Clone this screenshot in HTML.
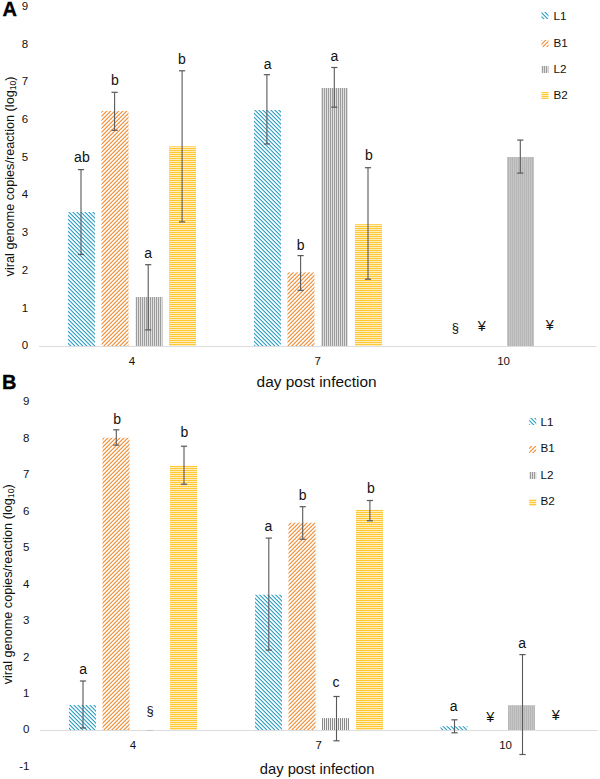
<!DOCTYPE html><html><head><meta charset="utf-8"><style>html,body{margin:0;padding:0;background:#fff;overflow:hidden}svg{display:block}text{font-family:"Liberation Sans",sans-serif;fill:#111111}</style></head><body>
<svg width="600" height="779" viewBox="0 0 600 779">
<rect width="600" height="779" fill="#fff"/>
<defs>
<pattern id="pL1" patternUnits="userSpaceOnUse" x="0" y="0" width="4" height="4"><g fill="#239BC4"><rect x="0" y="0" width="1" height="1" fill-opacity="0.45"/><rect x="1" y="0" width="1" height="1" fill-opacity="0.9"/><rect x="2" y="0" width="1" height="1" fill-opacity="0.15"/><rect x="1" y="1" width="1" height="1" fill-opacity="0.45"/><rect x="2" y="1" width="1" height="1" fill-opacity="0.9"/><rect x="3" y="1" width="1" height="1" fill-opacity="0.15"/><rect x="0" y="2" width="1" height="1" fill-opacity="0.15"/><rect x="2" y="2" width="1" height="1" fill-opacity="0.45"/><rect x="3" y="2" width="1" height="1" fill-opacity="0.9"/><rect x="0" y="3" width="1" height="1" fill-opacity="0.9"/><rect x="1" y="3" width="1" height="1" fill-opacity="0.15"/><rect x="3" y="3" width="1" height="1" fill-opacity="0.45"/></g></pattern>
<pattern id="pB1" patternUnits="userSpaceOnUse" x="0" y="0" width="4" height="4"><g fill="#F5852A"><rect x="0" y="0" width="1" height="1" fill-opacity="0.45"/><rect x="1" y="0" width="1" height="1" fill-opacity="0.9"/><rect x="2" y="0" width="1" height="1" fill-opacity="0.15"/><rect x="0" y="1" width="1" height="1" fill-opacity="0.9"/><rect x="1" y="1" width="1" height="1" fill-opacity="0.15"/><rect x="3" y="1" width="1" height="1" fill-opacity="0.45"/><rect x="0" y="2" width="1" height="1" fill-opacity="0.15"/><rect x="2" y="2" width="1" height="1" fill-opacity="0.45"/><rect x="3" y="2" width="1" height="1" fill-opacity="0.9"/><rect x="1" y="3" width="1" height="1" fill-opacity="0.45"/><rect x="2" y="3" width="1" height="1" fill-opacity="0.9"/><rect x="3" y="3" width="1" height="1" fill-opacity="0.15"/></g></pattern>
<pattern id="pL2" patternUnits="userSpaceOnUse" x="0" y="0" width="2" height="2"><rect width="2" height="2" fill="#E0E0E0"/><rect x="0" y="0" width="1" height="2" fill="#9C9C9C"/></pattern>
<pattern id="pL2u" patternUnits="userSpaceOnUse" x="0" y="0" width="2" height="2"><rect width="2" height="2" fill="#C6C6C6"/><rect x="0" y="0" width="1" height="2" fill="#B6B6B6"/></pattern>
<pattern id="pL2h" patternUnits="userSpaceOnUse" x="0" y="0" width="2" height="2"><rect width="2" height="2" fill="#F2F2F2"/><rect x="0" y="0" width="1" height="2" fill="#8A8A8A"/></pattern>
<pattern id="pB2" patternUnits="userSpaceOnUse" x="0" y="0" width="2" height="2"><rect width="2" height="2" fill="#FFEDBD"/><rect x="0" y="0" width="2" height="1" fill="#FFC935"/></pattern>
<pattern id="pB2u" patternUnits="userSpaceOnUse" x="0" y="0" width="2" height="2"><rect width="2" height="2" fill="#FFD876"/><rect x="0" y="0" width="2" height="1" fill="#FFD46A"/></pattern>
</defs>
<text x="28.2" y="349.40000000000003" font-size="11.5" text-anchor="end" >0</text>
<text x="28.2" y="311.67" font-size="11.5" text-anchor="end" >1</text>
<text x="28.2" y="273.94000000000005" font-size="11.5" text-anchor="end" >2</text>
<text x="28.2" y="236.21" font-size="11.5" text-anchor="end" >3</text>
<text x="28.2" y="198.48000000000002" font-size="11.5" text-anchor="end" >4</text>
<text x="28.2" y="160.75000000000003" font-size="11.5" text-anchor="end" >5</text>
<text x="28.2" y="123.02000000000001" font-size="11.5" text-anchor="end" >6</text>
<text x="28.2" y="85.29000000000005" font-size="11.5" text-anchor="end" >7</text>
<text x="28.2" y="47.56000000000004" font-size="11.5" text-anchor="end" >8</text>
<text x="28.2" y="9.830000000000018" font-size="11.5" text-anchor="end" >9</text>
<rect x="39" y="346" width="557.5" height="1" fill="#DCDCDC"/>
<rect x="68.0" y="212" width="27" height="134" fill="url(#pL1)"/>
<rect x="101.5" y="111" width="27" height="235" fill="url(#pB1)"/>
<rect x="135.5" y="297" width="27" height="49" fill="url(#pL2)"/>
<rect x="169.0" y="146.3" width="27" height="199.7" fill="url(#pB2)"/>
<rect x="254.0" y="110" width="27" height="236" fill="url(#pL1)"/>
<rect x="287.5" y="272.4" width="27" height="73.60000000000002" fill="url(#pB1)"/>
<rect x="321.0" y="88" width="27" height="258" fill="url(#pL2)"/>
<rect x="355.0" y="224.2" width="27" height="121.80000000000001" fill="url(#pB2)"/>
<rect x="507.0" y="157" width="27" height="189" fill="url(#pL2u)"/>
<rect x="80.45" y="169.60" width="1.1" height="84.90" fill="#595959"/>
<rect x="77.90" y="169.00" width="6.2" height="1.2" fill="#595959"/>
<rect x="77.90" y="253.90" width="6.2" height="1.2" fill="#595959"/>
<rect x="114.05" y="92.30" width="1.1" height="38.00" fill="#595959"/>
<rect x="111.50" y="91.70" width="6.2" height="1.2" fill="#595959"/>
<rect x="111.50" y="129.70" width="6.2" height="1.2" fill="#595959"/>
<rect x="147.65" y="264.70" width="1.1" height="65.20" fill="#595959"/>
<rect x="145.10" y="264.10" width="6.2" height="1.2" fill="#595959"/>
<rect x="145.10" y="329.30" width="6.2" height="1.2" fill="#595959"/>
<rect x="181.55" y="70.80" width="1.1" height="151.10" fill="#595959"/>
<rect x="179.00" y="70.20" width="6.2" height="1.2" fill="#595959"/>
<rect x="179.00" y="221.30" width="6.2" height="1.2" fill="#595959"/>
<rect x="266.35" y="74.70" width="1.1" height="69.30" fill="#595959"/>
<rect x="263.80" y="74.10" width="6.2" height="1.2" fill="#595959"/>
<rect x="263.80" y="143.40" width="6.2" height="1.2" fill="#595959"/>
<rect x="300.05" y="255.60" width="1.1" height="34.70" fill="#595959"/>
<rect x="297.50" y="255.00" width="6.2" height="1.2" fill="#595959"/>
<rect x="297.50" y="289.70" width="6.2" height="1.2" fill="#595959"/>
<rect x="333.75" y="67.50" width="1.1" height="39.70" fill="#595959"/>
<rect x="331.20" y="66.90" width="6.2" height="1.2" fill="#595959"/>
<rect x="331.20" y="106.60" width="6.2" height="1.2" fill="#595959"/>
<rect x="367.45" y="167.70" width="1.1" height="111.50" fill="#595959"/>
<rect x="364.90" y="167.10" width="6.2" height="1.2" fill="#595959"/>
<rect x="364.90" y="278.60" width="6.2" height="1.2" fill="#595959"/>
<rect x="519.75" y="140.10" width="1.1" height="33.00" fill="#595959"/>
<rect x="517.20" y="139.50" width="6.2" height="1.2" fill="#595959"/>
<rect x="517.20" y="172.50" width="6.2" height="1.2" fill="#595959"/>
<text x="81.9" y="161.8" font-size="14" text-anchor="middle" >ab</text>
<text x="114.8" y="84.5" font-size="14" text-anchor="middle" >b</text>
<text x="148.1" y="257.5" font-size="14" text-anchor="middle" >a</text>
<text x="182" y="64.4" font-size="14" text-anchor="middle" >b</text>
<text x="267.75" y="68.5" font-size="14" text-anchor="middle" >a</text>
<text x="300.6" y="250.4" font-size="14" text-anchor="middle" >b</text>
<text x="334.4" y="61.4" font-size="14" text-anchor="middle" >a</text>
<text x="369" y="160.4" font-size="14" text-anchor="middle" >b</text>
<text x="455.25" y="331.8" font-size="13" text-anchor="middle" >§</text>
<text x="481.75" y="330.8" font-size="14.5" text-anchor="middle" >¥</text>
<text x="549.75" y="330.3" font-size="14.5" text-anchor="middle" >¥</text>
<text x="132" y="365" font-size="11.5" text-anchor="middle" >4</text>
<text x="317.8" y="365.2" font-size="11.5" text-anchor="middle" >7</text>
<text x="503.6" y="365.2" font-size="11.5" text-anchor="middle" >10</text>
<text x="316.6" y="386.6" font-size="15.5" text-anchor="middle" textLength="120" lengthAdjust="spacingAndGlyphs">day post infection</text>
<text transform="translate(13.9,176.4) rotate(-90)" x="0" y="0" font-size="13" text-anchor="middle" textLength="200" lengthAdjust="spacingAndGlyphs">viral genome copies/reaction (log<tspan font-size="8.84" dy="2">10</tspan><tspan dy="-2">)</tspan></text>
<rect x="541.5" y="12" width="7" height="7" fill="url(#pL1)"/>
<text x="553.4" y="19.7" font-size="11.7" text-anchor="start" >L1</text>
<rect x="541.5" y="40" width="7" height="7" fill="url(#pB1)"/>
<text x="553.4" y="46.5" font-size="11.7" text-anchor="start" >B1</text>
<rect x="541.5" y="66" width="7" height="7" fill="url(#pL2)"/>
<text x="553.4" y="72.6" font-size="11.7" text-anchor="start" >L2</text>
<rect x="541.5" y="92" width="7" height="7" fill="url(#pB2)"/>
<text x="553.4" y="99.4" font-size="11.7" text-anchor="start" >B2</text>
<text x="2.4" y="16.2" font-size="20" text-anchor="start" font-weight="bold" style="fill:#000;stroke:#000;stroke-width:0.35px">A</text>
<text x="29.4" y="769.85" font-size="11.5" text-anchor="end" >-1</text>
<text x="29.4" y="733.4" font-size="11.5" text-anchor="end" >0</text>
<text x="29.4" y="696.9499999999999" font-size="11.5" text-anchor="end" >1</text>
<text x="29.4" y="660.5" font-size="11.5" text-anchor="end" >2</text>
<text x="29.4" y="624.05" font-size="11.5" text-anchor="end" >3</text>
<text x="29.4" y="587.6" font-size="11.5" text-anchor="end" >4</text>
<text x="29.4" y="551.15" font-size="11.5" text-anchor="end" >5</text>
<text x="29.4" y="514.6999999999999" font-size="11.5" text-anchor="end" >6</text>
<text x="29.4" y="478.24999999999994" font-size="11.5" text-anchor="end" >7</text>
<text x="29.4" y="441.79999999999995" font-size="11.5" text-anchor="end" >8</text>
<text x="29.4" y="405.34999999999997" font-size="11.5" text-anchor="end" >9</text>
<rect x="40" y="730" width="557.7" height="1" fill="#DCDCDC"/>
<rect x="69.0" y="705" width="27" height="25" fill="url(#pL1)"/>
<rect x="102.5" y="437.7" width="27" height="292.3" fill="url(#pB1)"/>
<rect x="170.0" y="465.75" width="27" height="264.25" fill="url(#pB2)"/>
<rect x="255.0" y="594.7" width="27" height="135.29999999999995" fill="url(#pL1)"/>
<rect x="288.5" y="522.7" width="27" height="207.29999999999995" fill="url(#pB1)"/>
<rect x="322.0" y="718.1" width="27" height="11.899999999999977" fill="url(#pL2h)"/>
<rect x="356.0" y="509.9" width="27" height="220.10000000000002" fill="url(#pB2)"/>
<rect x="440.5" y="726.2" width="27" height="3.7999999999999545" fill="url(#pL1)"/>
<rect x="508.0" y="705.2" width="27" height="24.799999999999955" fill="url(#pL2u)"/>
<rect x="82.45" y="681.00" width="1.1" height="47.00" fill="#595959"/>
<rect x="79.90" y="680.40" width="6.2" height="1.2" fill="#595959"/>
<rect x="79.90" y="727.40" width="6.2" height="1.2" fill="#595959"/>
<rect x="115.75" y="429.80" width="1.1" height="15.30" fill="#595959"/>
<rect x="113.20" y="429.20" width="6.2" height="1.2" fill="#595959"/>
<rect x="113.20" y="444.50" width="6.2" height="1.2" fill="#595959"/>
<rect x="183.45" y="446.25" width="1.1" height="38.00" fill="#595959"/>
<rect x="180.90" y="445.65" width="6.2" height="1.2" fill="#595959"/>
<rect x="180.90" y="483.65" width="6.2" height="1.2" fill="#595959"/>
<rect x="268.25" y="538.10" width="1.1" height="112.00" fill="#595959"/>
<rect x="265.70" y="537.50" width="6.2" height="1.2" fill="#595959"/>
<rect x="265.70" y="649.50" width="6.2" height="1.2" fill="#595959"/>
<rect x="302.15" y="506.70" width="1.1" height="32.50" fill="#595959"/>
<rect x="299.60" y="506.10" width="6.2" height="1.2" fill="#595959"/>
<rect x="299.60" y="538.60" width="6.2" height="1.2" fill="#595959"/>
<rect x="335.95" y="696.50" width="1.1" height="44.30" fill="#595959"/>
<rect x="333.40" y="695.90" width="6.2" height="1.2" fill="#595959"/>
<rect x="333.40" y="740.20" width="6.2" height="1.2" fill="#595959"/>
<rect x="369.35" y="500.50" width="1.1" height="20.30" fill="#595959"/>
<rect x="366.80" y="499.90" width="6.2" height="1.2" fill="#595959"/>
<rect x="366.80" y="520.20" width="6.2" height="1.2" fill="#595959"/>
<rect x="453.95" y="719.80" width="1.1" height="13.00" fill="#595959"/>
<rect x="451.40" y="719.20" width="6.2" height="1.2" fill="#595959"/>
<rect x="451.40" y="732.20" width="6.2" height="1.2" fill="#595959"/>
<rect x="521.95" y="654.60" width="1.1" height="99.90" fill="#595959"/>
<rect x="519.40" y="654.00" width="6.2" height="1.2" fill="#595959"/>
<rect x="519.40" y="753.90" width="6.2" height="1.2" fill="#595959"/>
<rect x="147" y="730" width="6" height="1" fill="#C4C4C4"/>
<text x="83.25" y="674.4" font-size="14" text-anchor="middle" >a</text>
<text x="117.25" y="423.7" font-size="14" text-anchor="middle" >b</text>
<text x="184.4" y="437.4" font-size="14" text-anchor="middle" >b</text>
<text x="268.3" y="531" font-size="14" text-anchor="middle" >a</text>
<text x="302.7" y="500.4" font-size="14" text-anchor="middle" >b</text>
<text x="336" y="687.4" font-size="14" text-anchor="middle" >c</text>
<text x="371" y="492.7" font-size="14" text-anchor="middle" >b</text>
<text x="453.75" y="710.5" font-size="14" text-anchor="middle" >a</text>
<text x="522.25" y="647.5" font-size="14" text-anchor="middle" >a</text>
<text x="150" y="715" font-size="13" text-anchor="middle" >§</text>
<text x="490.3" y="721.6" font-size="14.5" text-anchor="middle" >¥</text>
<text x="555.9" y="720.1" font-size="14.5" text-anchor="middle" >¥</text>
<text x="132.95" y="749" font-size="11.5" text-anchor="middle" >4</text>
<text x="318.8" y="748.8" font-size="11.5" text-anchor="middle" >7</text>
<text x="505.6" y="749.4" font-size="11.5" text-anchor="middle" >10</text>
<text x="317.1" y="774.2" font-size="15" text-anchor="middle" textLength="114.6" lengthAdjust="spacingAndGlyphs">day post infection</text>
<text transform="translate(11.8,584.3) rotate(-90)" x="0" y="0" font-size="13" text-anchor="middle" textLength="200" lengthAdjust="spacingAndGlyphs">viral genome copies/reaction (log<tspan font-size="8.84" dy="2">10</tspan><tspan dy="-2">)</tspan></text>
<rect x="529.2" y="418" width="7" height="7" fill="url(#pL1)"/>
<text x="540.4" y="425.6" font-size="11.7" text-anchor="start" >L1</text>
<rect x="529.2" y="446" width="7" height="7" fill="url(#pB1)"/>
<text x="540.4" y="452.3" font-size="11.7" text-anchor="start" >B1</text>
<rect x="529.2" y="472" width="7" height="7" fill="url(#pL2)"/>
<text x="540.4" y="479" font-size="11.7" text-anchor="start" >L2</text>
<rect x="529.2" y="499" width="7" height="7" fill="url(#pB2)"/>
<text x="540.4" y="505.4" font-size="11.7" text-anchor="start" >B2</text>
<text x="1.9" y="389.2" font-size="20" text-anchor="start" font-weight="bold" style="fill:#000;stroke:#000;stroke-width:0.35px">B</text>
</svg></body></html>
